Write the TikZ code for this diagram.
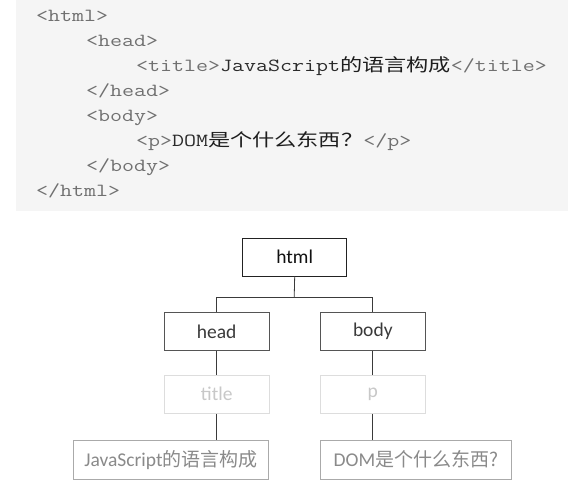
\documentclass[tikz,border=0pt]{standalone}
\usepackage{fontspec}
\usepackage{graphicx}
\setmainfont{Carlito}
\newfontfamily\cjkfont{Noto Sans CJK SC}
\definecolor{codebg}{HTML}{F5F5F5}
\definecolor{tagc}{HTML}{707070}
\definecolor{txtc}{HTML}{2A2A2A}
\definecolor{cjkc}{HTML}{1E1E1E}
\definecolor{boxA}{HTML}{222222}
\definecolor{boxB}{HTML}{555555}
\definecolor{boxC}{HTML}{DDDDDD}
\definecolor{boxD}{HTML}{AAAAAA}
\definecolor{lblA}{HTML}{111111}
\definecolor{lblB}{HTML}{3A3A3A}
\definecolor{lblC}{HTML}{C8C8C8}
\definecolor{lblD}{HTML}{8A8A8A}
\definecolor{wire}{HTML}{3A3A3A}
\newcommand{\cl}[1]{\scalebox{1.26}[1]{\fontsize{18.5pt}{20pt}\selectfont\ttfamily #1}}
\newcommand{\tg}[1]{\textcolor{tagc}{#1}}
\newcommand{\tx}[1]{\textcolor{txtc}{#1}}
\newcommand{\cj}[1]{\textcolor{cjkc}{\fontsize{17.6pt}{20pt}\selectfont\cjkfont #1}}
\tikzset{
  codeline/.style={anchor=base west, inner sep=0pt, outer sep=0pt},
  treebox/.style={draw, rectangle, inner sep=0pt, line width=0.9pt,
    minimum height=38pt, font=\fontsize{19.5pt}{22pt}\selectfont},
  lvA/.style={treebox, draw=boxA, text=lblA, minimum width=104pt},
  lvB/.style={treebox, draw=boxB, text=lblB, minimum width=105pt},
  lvC/.style={treebox, draw=boxC, text=lblC, minimum width=105pt},
  lvD/.style={treebox, draw=boxD, text=lblD, minimum height=39pt},
  wirestyle/.style={draw=wire, line width=0.8pt}
}
\begin{document}
\begin{tikzpicture}[x=1pt,y=-1pt]
\useasboundingbox (0,0) rectangle (582,487);
\fill[white] (0,0) rectangle (582,487);
% code block
\fill[codebg] (16,0) rectangle (568,211);
\node[codeline] (c1) at (36,21.3) {\cl{\tg{<html>}}};
\node[codeline] (c2) at (86,46.4) {\cl{\tg{<head>}}};
\node[codeline] (c3) at (136,71.4) {\cl{\tg{<title>}\tx{JavaScript}\cj{的语言构成}\tg{</title>}}};
\node[codeline] (c4) at (86,96.5) {\cl{\tg{</head>}}};
\node[codeline] (c5) at (86,121.5) {\cl{\tg{<body>}}};
\node[codeline] (c6) at (136,146.6) {\cl{\tg{<p>}\tx{DOM}\cj{是个什么东西？}\tg{</p>}}};
\node[codeline] (c7) at (86,171.6) {\cl{\tg{</body>}}};
\node[codeline] (c8) at (36,196.7) {\cl{\tg{</html>}}};
% tree
\node[lvA] (html) at (294.7,257) {html};
\node[lvB] (head) at (216.7,331.5) {head};
\node[lvB] (body) at (372.8,331.5) {body};
\node[lvC] (title) at (216.7,394.3) {title};
\node[lvC] (p) at (372.8,394.3) {p};
\node[lvD, minimum width=195.5pt] (js) at (171,459.7) {JavaScript{\cjkfont\fontsize{19pt}{22pt}\selectfont 的语言构成}};
\node[lvD, minimum width=191.5pt] (dom) at (416,459.7) {DOM{\cjkfont\fontsize{19pt}{22pt}\selectfont 是个什么东西?}};
\coordinate (bus) at (294.2,297.3);
\path[wirestyle] (html.south) -- (bus);
\path[wirestyle] (bus -| head.north) -- (bus -| body.north);
\path[wirestyle] (bus -| head.north) -- (head.north);
\path[wirestyle] (bus -| body.north) -- (body.north);
\path[wirestyle] (head.south) -- (title.north);
\path[wirestyle] (body.south) -- (p.north);
\path[wirestyle] (title.south) -- (title.south |- js.north);
\path[wirestyle] (p.south) -- (p.south |- dom.north);
\end{tikzpicture}
\end{document}
